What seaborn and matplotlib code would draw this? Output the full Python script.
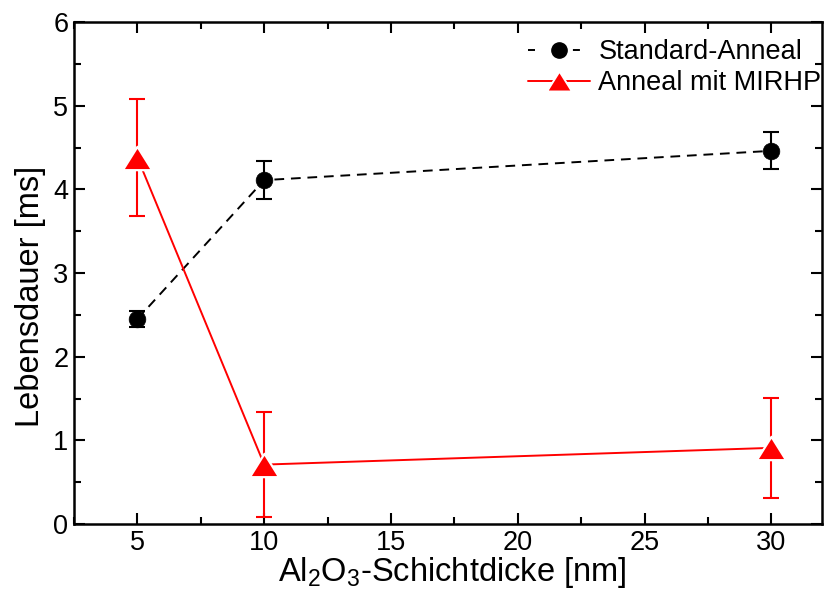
import pandas as pd
import matplotlib
matplotlib.use("Agg")
import matplotlib.pyplot as plt
from matplotlib.ticker import MultipleLocator
from matplotlib.lines import Line2D
import seaborn as sns

# Lifetime vs. Al2O3 layer thickness
thickness = [5, 10, 30]
std_lifetime = [2.45, 4.11, 4.46]
std_err = [0.09, 0.23, 0.22]
mirhp_lifetime = [4.38, 0.71, 0.91]
mirhp_err = [0.70, 0.63, 0.60]
series_names = ["Standard-Anneal", "Anneal mit MIRHP"]

sns.set_theme(style="white")
plt.rcParams["font.family"] = ["Liberation Sans", "DejaVu Sans"]
plt.rcParams["mathtext.fontset"] = "custom"
plt.rcParams["mathtext.rm"] = "Liberation Sans"
plt.rcParams["mathtext.it"] = "Liberation Sans"
plt.rcParams["mathtext.default"] = "regular"
plt.rcParams["text.color"] = "black"
plt.rcParams["axes.labelcolor"] = "black"

df = pd.DataFrame({
    "x": thickness * 2,
    "y": std_lifetime + mirhp_lifetime,
    "err": std_err + mirhp_err,
    "series": [series_names[0]] * 3 + [series_names[1]] * 3,
})

fig = plt.figure(figsize=(8.24, 5.91), dpi=100)
ax = fig.add_axes([74 / 824, 1 - 524 / 591, (822 - 74) / 824, (524 - 22) / 591])

colors = {series_names[0]: "black", series_names[1]: "red"}
markers = {series_names[0]: "o", series_names[1]: "^"}
# slightly flattened up-triangle
flat_tri = [(-1, -0.8), (1, -0.8), (0, 0.8), (-1, -0.8)]

sns.lineplot(data=df, x="x", y="y", hue="series", style="series",
             palette=colors, markers=markers,
             dashes={series_names[0]: (5, 3.5), series_names[1]: ""},
             ax=ax, linewidth=1.4, markersize=12, zorder=3, legend=False)

# marker styling per series
circ, tri = ax.lines[0], ax.lines[1]
circ.set_markeredgecolor("black")
circ.set_markeredgewidth(0.5)
tri.set_marker(flat_tri)
tri.set_markersize(21)
tri.set_markeredgecolor("white")
tri.set_markeredgewidth(1.6)

for name in series_names:
    sub = df[df["series"] == name]
    ax.errorbar(sub["x"], sub["y"], yerr=sub["err"], fmt="none",
                ecolor=colors[name], elinewidth=1.5, capsize=6, capthick=1.5, zorder=2)

# Legend
handles = [
    Line2D([], [], color="black", linestyle=(0, (3.6, 19.5)), marker="o",
           markersize=11, linewidth=1.4),
    Line2D([], [], color="red", linestyle="-", marker=flat_tri, markersize=18,
           markeredgecolor="white", markeredgewidth=1.4, linewidth=1.4),
]
ax.legend(handles, series_names, loc="upper left", frameon=False,
          fontsize=19.5, handlelength=2.3, handletextpad=0.3,
          borderpad=0, borderaxespad=0, labelspacing=0.2,
          bbox_to_anchor=(528 / 824, 1 - 39 / 591), bbox_transform=fig.transFigure)

ax.set_xlim(2.5, 32)
ax.set_ylim(0, 6)
ax.xaxis.set_major_locator(MultipleLocator(5))
ax.xaxis.set_minor_locator(MultipleLocator(2.5))
ax.yaxis.set_major_locator(MultipleLocator(1))
ax.yaxis.set_minor_locator(MultipleLocator(0.5))
ax.tick_params(which="both", direction="in", top=True, right=True,
               bottom=True, left=True, width=1.5, colors="black")
ax.tick_params(which="major", length=8, labelsize=19.5, pad=4)
ax.tick_params(which="minor", length=5)
for s in ax.spines.values():
    s.set_linewidth(1.8)
    s.set_color("black")

ax.set_xlabel("Al$_2$O$_3$-Schichtdicke [nm]", fontsize=23.5)
ax.set_ylabel("Lebensdauer [ms]", fontsize=23.5)
ax.xaxis.set_label_coords(0.5 * (275 + 630) / 748 - 74 / 748, -0.062)
ax.yaxis.set_label_coords(-0.037, 0.454)

fig.savefig("out.png", dpi=100)
